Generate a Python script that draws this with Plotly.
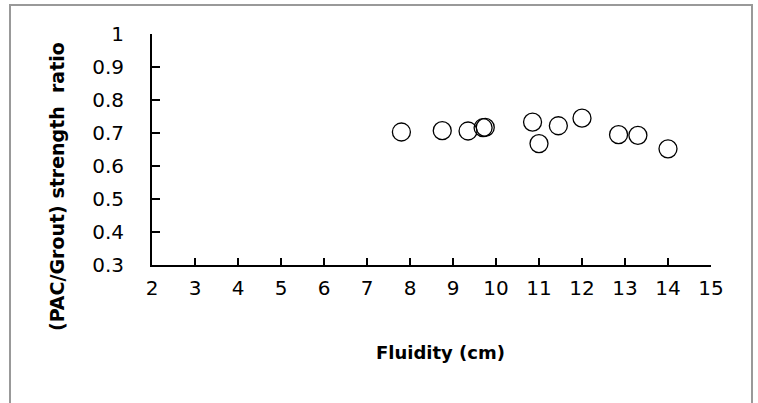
import plotly.graph_objects as go

# Fluidity of the grout (cm) and the PAC/Grout compressive strength ratio
fluidity = [7.8, 8.75, 9.35, 9.7, 9.75, 10.85, 11.0, 11.45, 12.0, 12.85, 13.3, 14.0]
strength_ratio = [0.703, 0.707, 0.706, 0.716, 0.717, 0.733, 0.668, 0.722, 0.745, 0.695, 0.693, 0.652]

x_ticks = list(range(2, 16))
y_ticks = [0.3, 0.4, 0.5, 0.6, 0.7, 0.8, 0.9, 1.0]
y_tick_text = ["0.3", "0.4", "0.5", "0.6", "0.7", "0.8", "0.9", "1"]

FONT = "'DejaVu Sans', sans-serif"

# plot-area pixel geometry used for placing titles and the outer frame
L, R, T, B = 152, 711, 34, 265
W, H = R - L, B - T


def px(x):
    return (x - L) / W


def py(y):
    return (B - y) / H


fig = go.Figure()
fig.add_trace(go.Scatter(
    x=fluidity, y=strength_ratio, mode="markers",
    marker=dict(symbol="circle-open", size=18, color="black", line=dict(width=1.3, color="black")),
    showlegend=False, hoverinfo="x+y",
))

fig.update_layout(
    width=758, height=403,
    margin=dict(l=L, r=758 - R, t=T, b=403 - B),
    paper_bgcolor="white", plot_bgcolor="white",
    font=dict(family=FONT, size=20, color="black"),
    xaxis=dict(
        range=[2, 15], tickmode="array", tickvals=x_ticks, ticktext=[str(v) for v in x_ticks],
        showgrid=False, zeroline=False, showline=True, linecolor="black", linewidth=2,
        ticks="inside", ticklen=7, tickcolor="black", tickwidth=1.5, ticklabelstandoff=4,
        tickfont=dict(family=FONT, size=20),
    ),
    yaxis=dict(
        range=[0.3, 1.0], tickmode="array", tickvals=y_ticks, ticktext=y_tick_text,
        showgrid=False, zeroline=False, showline=True, linecolor="black", linewidth=2,
        ticks="inside", ticklen=8, tickcolor="black", tickwidth=1.5, ticklabelstandoff=22,
        tickfont=dict(family=FONT, size=20),
    ),
    annotations=[
        dict(text="<b>Fluidity (cm)</b>", xref="paper", yref="paper",
             x=px(441), y=py(352), showarrow=False,
             font=dict(family=FONT, size=18), xanchor="center", yanchor="middle"),
        dict(text="<b>(PAC/Grout) strength&nbsp; ratio</b>", xref="paper", yref="paper",
             x=px(57), y=py(187), showarrow=False, textangle=-90,
             font=dict(family=FONT, size=19), xanchor="center", yanchor="middle"),
    ],
    shapes=[
        dict(type="rect", xref="paper", yref="paper",
             x0=px(10), x1=px(752), y0=py(420), y1=py(5),
             line=dict(color="#999999", width=2), fillcolor="rgba(0,0,0,0)", layer="below"),
    ],
)

fig.write_html("out.html")
